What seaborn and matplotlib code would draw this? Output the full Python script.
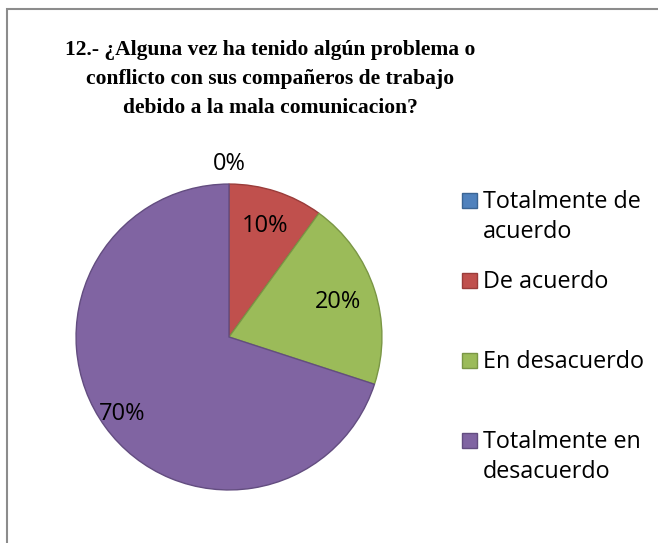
import matplotlib
matplotlib.use("Agg")
import matplotlib.pyplot as plt
import seaborn as sns
import numpy as np
from matplotlib.patches import Rectangle

categories = ["Totalmente de\nacuerdo", "De acuerdo", "En desacuerdo", "Totalmente en\ndesacuerdo"]
values = [0, 10, 20, 70]
pct_labels = ["0%", "10%", "20%", "70%"]
colors = ["#4F81BD", "#C0504D", "#9BBB59", "#8064A2"]
edges = ["#3A6494", "#9A3C3A", "#7A9645", "#634D80"]

sns.set_theme(style="white")
plt.rcParams["font.family"] = ["Open Sans", "DejaVu Sans"]

W, H = 658, 543
fig = plt.figure(figsize=(W / 100, H / 100), dpi=100)
fig.patch.set_facecolor("white")

def fx(px):
    return px / W

def fy(py):
    return 1 - py / H

# chart border (partially cropped)
fig.add_artist(Rectangle((fx(7), fy(700)), fx(700), fy(9) - fy(700), transform=fig.transFigure,
                         fill=False, edgecolor="#8c8c8c", linewidth=1.5))

# title
fig.text(fx(270), fy(79), "12.- ¿Alguna vez ha tenido algún problema o\nconflicto con sus compañeros de trabajo\ndebido a la mala comunicacion?",
         ha="center", va="center", family="Liberation Serif", fontweight="bold",
         fontsize=15.5, linespacing=1.62, color="black")

# pie
cx, cy, r = 229, 337, 156
ax = fig.add_axes([fx(cx - r), fy(cy + r), 2 * r / W, 2 * r / H])
wedges, texts = ax.pie(values, colors=colors, startangle=90, counterclock=False,
                       wedgeprops=dict(linewidth=1.0), radius=1.0)
for w, e in zip(wedges, edges):
    w.set_edgecolor(e)
ax.set_xlim(-1.02, 1.02)
ax.set_ylim(-1.02, 1.02)
ax.axis("off")

# percentage labels
dists = [1.13, 0.76, 0.75, 0.86]
ang = 90.0
for v, lab, d in zip(values, pct_labels, dists):
    span = v / sum(values) * 360
    mid = np.deg2rad(ang - span / 2)
    ax.text(d * np.cos(mid), d * np.sin(mid), lab, ha="center", va="center",
            fontsize=17, color="black")
    ang -= span

# legend
base_y = [208, 288, 368, 448]
for cat, c, e, by in zip(categories, colors, edges, base_y):
    fig.add_artist(Rectangle((fx(462), fy(by)), fx(15), fy(by - 15) - fy(by),
                             transform=fig.transFigure, facecolor=c, edgecolor=e, linewidth=1.0))
    for k, line in enumerate(cat.split("\n")):
        fig.text(fx(483), fy(by + 30 * k), line, ha="left", va="baseline",
                 fontsize=16.8, color="black")

fig.savefig("out.png", dpi=100, facecolor="white")
